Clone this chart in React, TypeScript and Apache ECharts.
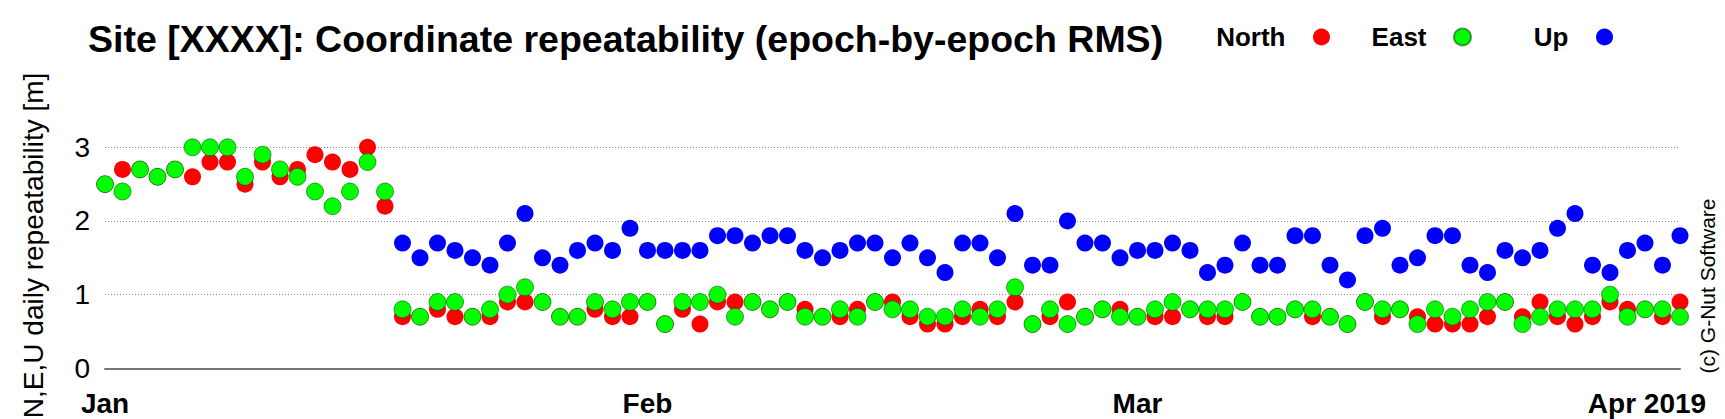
import React, { useEffect, useRef } from "react";
import * as echarts from "echarts";

// Day offsets from 1 Jan 2019 (index of each array = day number)
const north: (number | null)[] = [
  2.5, 2.7, 2.7, 2.6, 2.7, 2.6, 2.8, 2.8, 2.5, 2.8, 2.6, 2.7, 2.9, 2.8, 2.7, 3.0, 2.2,
  0.7, 0.7, 0.8, 0.7, 0.7, 0.7, 0.9, 0.9, 0.9, 0.7, 0.7, 0.8, 0.7, 0.7,
  0.9, 0.6, 0.8, 0.6, 0.9, 0.9, 0.9, 0.8, 0.9, 0.8, 0.7, 0.7, 0.8, 0.9, 0.9, 0.7, 0.6, 0.6,
  0.7, 0.8, 0.7, 0.9, 0.6, 0.7, 0.9, 0.7, 0.8, 0.8,
  0.7, 0.7, 0.7, 0.8, 0.7, 0.7, 0.9, 0.7, 0.7, 0.8, 0.7, 0.7, 0.6, 0.9, 0.7, 0.8, 0.7,
  0.6, 0.6, 0.6, 0.7, 0.9, 0.7, 0.9, 0.7, 0.6, 0.7, 0.9, 0.8, 0.8, 0.7, 0.9,
];

const east: (number | null)[] = [
  2.5, 2.4, 2.7, 2.6, 2.7, 3.0, 3.0, 3.0, 2.6, 2.9, 2.7, 2.6, 2.4, 2.2, 2.4, 2.8, 2.4,
  0.8, 0.7, 0.9, 0.9, 0.7, 0.8, 1.0, 1.1, 0.9, 0.7, 0.7, 0.9, 0.8, 0.9,
  0.9, 0.6, 0.9, 0.9, 1.0, 0.7, 0.9, 0.8, 0.9, 0.7, 0.7, 0.8, 0.7, 0.9, 0.8, 0.8, 0.7, 0.7,
  0.8, 0.7, 0.8, 1.1, 0.6, 0.8, 0.6, 0.7, 0.8, 0.7,
  0.7, 0.8, 0.9, 0.8, 0.8, 0.8, 0.9, 0.7, 0.7, 0.8, 0.8, 0.7, 0.6, 0.9, 0.8, 0.8, 0.6,
  0.8, 0.7, 0.8, 0.9, 0.9, 0.6, 0.7, 0.8, 0.8, 0.8, 1.0, 0.7, 0.8, 0.8, 0.7,
];

const up: (number | null)[] = [
  null, null, null, null, null, null, null, null, null, null, null, null, null, null, null, null, null,
  1.7, 1.5, 1.7, 1.6, 1.5, 1.4, 1.7, 2.1, 1.5, 1.4, 1.6, 1.7, 1.6, 1.9,
  1.6, 1.6, 1.6, 1.6, 1.8, 1.8, 1.7, 1.8, 1.8, 1.6, 1.5, 1.6, 1.7, 1.7, 1.5, 1.7, 1.5, 1.3,
  1.7, 1.7, 1.5, 2.1, 1.4, 1.4, 2.0, 1.7, 1.7, 1.5,
  1.6, 1.6, 1.7, 1.6, 1.3, 1.4, 1.7, 1.4, 1.4, 1.8, 1.8, 1.4, 1.2, 1.8, 1.9, 1.4, 1.5,
  1.8, 1.8, 1.4, 1.3, 1.6, 1.5, 1.6, 1.9, 2.1, 1.4, 1.3, 1.6, 1.7, 1.4, 1.8,
];

const monthTickDays = [0, 31, 59, 90];
const monthTickLabels = ["Jan", "Feb", "Mar", "Apr 2019"];
const seriesNames = ["North", "East", "Up"];
const seriesColors = ["#ff0000", "#00ff00", "#0000ff"];

const FONT = "'Liberation Sans', Arial, Helvetica, sans-serif";

function toPoints(vals: (number | null)[]) {
  const out: [number, number][] = [];
  vals.forEach((v, i) => {
    if (v !== null && v !== undefined) out.push([i, v]);
  });
  return out;
}

export default function App() {
  const ref = useRef<HTMLDivElement>(null);

  useEffect(() => {
    if (!ref.current) return;
    const chart = echarts.init(ref.current, undefined, { renderer: "svg" });
    const dataSets = [north, east, up];
    const legendRights = [395, 253, 112];

    chart.setOption({
      animation: false,
      backgroundColor: "#ffffff",
      textStyle: { fontFamily: FONT },
      title: {
        text: "Site [XXXX]: Coordinate repeatability (epoch-by-epoch RMS)",
        left: 88,
        top: 20,
        padding: 0,
        textStyle: { fontSize: 37.5, fontWeight: "bold", color: "#000", fontFamily: FONT },
      },
      legend: seriesNames.map((n, i) => ({
        data: [n],
        right: legendRights[i],
        top: 24,
        padding: 0,
        align: "right",
        icon: "circle",
        itemWidth: 62,
        itemHeight: 17,
        selectedMode: false,
        textStyle: { fontSize: 26, fontWeight: "bold", color: "#000", fontFamily: FONT },
      })),
      grid: {
        left: 105,
        right: 45,
        top: 110.5,
        bottom: 50.7,
        containLabel: false,
        outerBoundsMode: "none",
      },
      xAxis: {
        type: "value",
        min: 0,
        max: 90,
        axisLine: { show: true, onZero: false, lineStyle: { color: "#777", width: 2 } },
        axisTick: { show: false },
        splitLine: { show: false },
        axisLabel: {
          customValues: monthTickDays,
          margin: 21,
          fontSize: 28,
          fontWeight: "bold",
          color: "#000",
          fontFamily: FONT,
          formatter: (v: number) => {
            const idx = monthTickDays.indexOf(v);
            if (idx < 0) return "";
            if (idx === monthTickDays.length - 1) return "{r|" + monthTickLabels[idx] + "}";
            return monthTickLabels[idx];
          },
          rich: {
            r: {
              fontSize: 28,
              fontWeight: "bold",
              color: "#000",
              fontFamily: FONT,
              padding: [0, 66, 0, 0],
            },
          },
        },
      },
      yAxis: {
        type: "value",
        min: 0,
        max: 3.5,
        interval: 1,
        name: "N,E,U daily repeatability [m]",
        nameLocation: "middle",
        nameGap: 58,
        nameTextStyle: { fontSize: 28, color: "#000", fontFamily: FONT, padding: [0, 12, 0, 0] },
        axisLine: { show: false },
        axisTick: { show: false },
        axisLabel: {
          margin: 15,
          fontSize: 28,
          color: "#000",
          fontFamily: FONT,
          showMaxLabel: false,
          formatter: (v: number) => (v > 3 ? "" : String(v)),
        },
        splitLine: {
          show: true,
          showMinLine: false,
          showMaxLine: false,
          lineStyle: { color: "#888", width: 1, type: [1, 2] },
        },
      },
      series: seriesNames.map((n, i) => ({
        name: n,
        type: "scatter",
        symbol: "circle",
        symbolSize: 17,
        data: toPoints(dataSets[i]),
        itemStyle:
          i === 1
            ? { color: seriesColors[i], opacity: 1, borderColor: "rgba(0,70,0,0.55)", borderWidth: 1 }
            : { color: seriesColors[i], opacity: 1 },
        emphasis: { disabled: true },
      })),
      graphic: [
        {
          type: "text",
          x: 1707,
          y: 286,
          rotation: Math.PI / 2,
          style: {
            text: "(c) G-Nut Software",
            fontSize: 21,
            fontFamily: FONT,
            fill: "#000",
            textAlign: "center",
            textVerticalAlign: "middle",
          },
        },
      ],
    });

    return () => chart.dispose();
  }, []);

  return (
    <div
      ref={ref}
      style={{ position: "fixed", left: 0, top: 0, width: 1725, height: 419, background: "#fff" }}
    />
  );
}
